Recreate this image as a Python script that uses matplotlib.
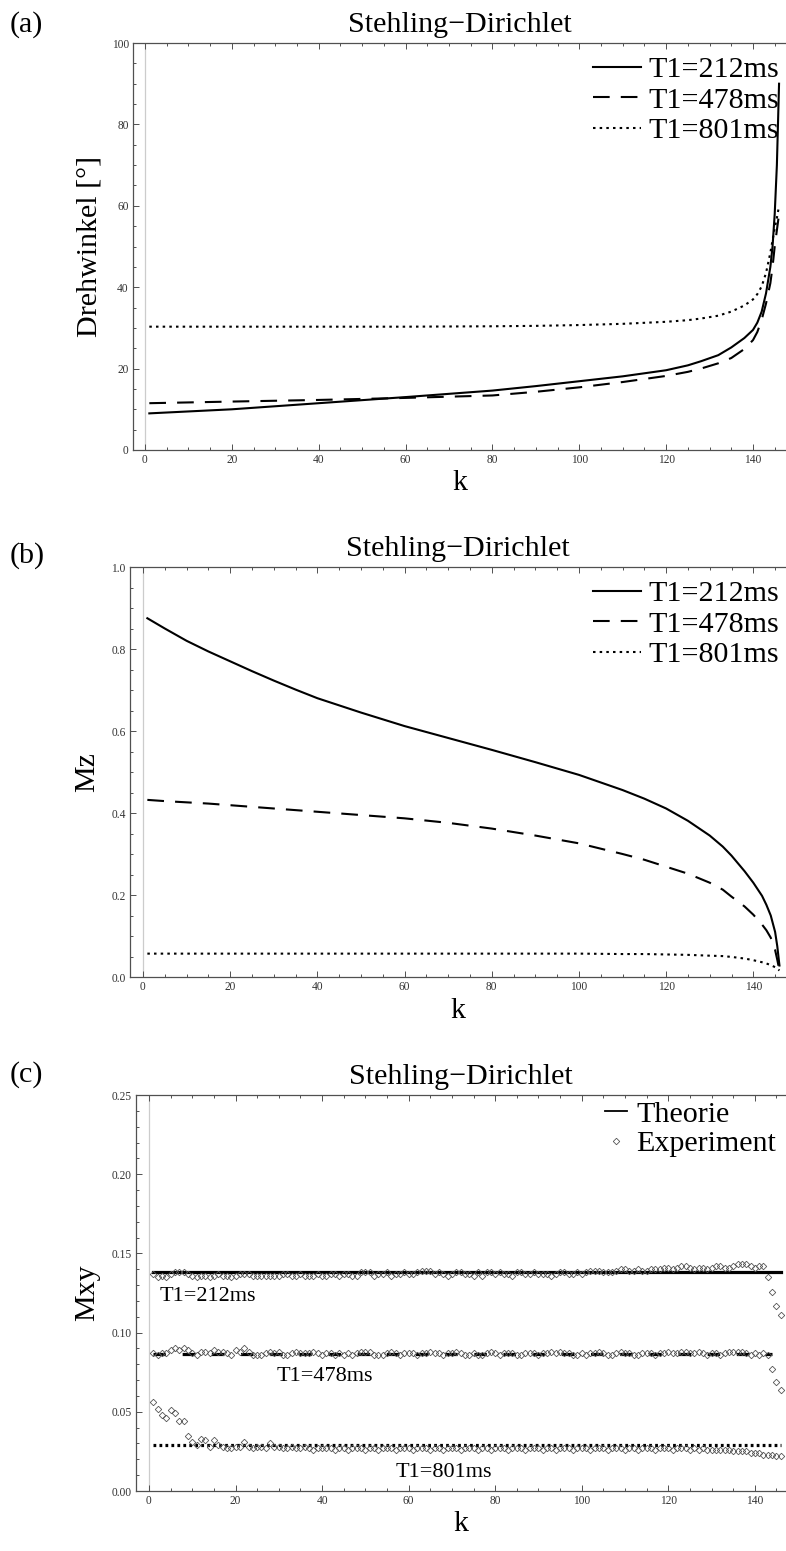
import matplotlib
matplotlib.use("Agg")
import matplotlib.pyplot as plt
from matplotlib.ticker import MultipleLocator, FormatStrFormatter

plt.rcParams["font.family"] = ["Liberation Serif", "DejaVu Serif"]
plt.rcParams["lines.scale_dashes"] = False

TITLE = "Stehling\u2212Dirichlet"
T1_LABELS = ["T1=212ms", "T1=478ms", "T1=801ms"]

# (a) flip angle vs k
k_a = [1, 20, 40, 60, 80, 90, 100, 110, 120, 125, 128, 132, 135, 138, 140, 141, 142, 143, 144, 144.5, 145, 145.5, 146]
angle_212 = [9.0, 10.0, 11.5, 13.0, 14.6, 15.7, 16.9, 18.1, 19.6, 20.8, 21.8, 23.3, 25.2, 27.5, 29.5, 31.3, 34.0, 38.5, 45.0, 50.0, 58.0, 70.0, 90.0]
angle_478 = [11.5, 11.9, 12.3, 12.8, 13.4, 14.3, 15.4, 16.7, 18.2, 19.2, 20.0, 21.3, 22.6, 24.8, 27.0, 29.0, 32.0, 36.0, 41.0, 45.0, 50.0, 54.0, 58.0]
angle_801 = [30.3, 30.3, 30.3, 30.3, 30.4, 30.5, 30.7, 31.0, 31.5, 31.9, 32.3, 33.0, 34.0, 35.5, 37.0, 38.3, 40.2, 43.5, 48.5, 51.5, 54.5, 57.0, 60.0]

# (b) Mz vs k
k_b = [1, 5, 10, 15, 20, 25, 30, 35, 40, 50, 60, 70, 80, 90, 100, 110, 115, 120, 125, 130, 133, 135, 138, 140,
       142, 143, 144, 145, 145.5, 146]
mz_212 = [0.875, 0.850, 0.820, 0.794, 0.770, 0.746, 0.723, 0.701, 0.680, 0.645, 0.612, 0.583, 0.554, 0.524,
          0.493, 0.456, 0.435, 0.411, 0.381, 0.345, 0.318, 0.296, 0.258, 0.230, 0.198, 0.176, 0.150, 0.110,
          0.075, 0.028]
mz_478 = [0.432, 0.429, 0.426, 0.423, 0.419, 0.415, 0.411, 0.407, 0.403, 0.395, 0.387, 0.376, 0.362, 0.345,
          0.326, 0.300, 0.286, 0.269, 0.252, 0.230, 0.213, 0.196, 0.172, 0.152, 0.128, 0.114, 0.096, 0.066,
          0.042, 0.016]
mz_801 = [0.057, 0.057, 0.057, 0.057, 0.057, 0.057, 0.057, 0.057, 0.057, 0.057, 0.057, 0.057, 0.057, 0.057,
          0.057, 0.056, 0.056, 0.055, 0.054, 0.052, 0.051, 0.049, 0.045, 0.041, 0.036, 0.033, 0.029, 0.024,
          0.020, 0.016]

# (c) Mxy: theory levels and measured points, k = 1..146
k_theory = [1, 146]
k_theory_478 = [1, 144]
mxy_theory = [0.1385, 0.0864, 0.0292]

exp_212 = [
    0.137, 0.135, 0.136, 0.135, 0.137, 0.138, 0.138, 0.138, 0.137, 0.136,
    0.135, 0.136, 0.136, 0.135, 0.136, 0.137, 0.136, 0.136, 0.135, 0.136,
    0.137, 0.137, 0.137, 0.136, 0.136, 0.136, 0.136, 0.136, 0.136, 0.136,
    0.137, 0.137, 0.136, 0.136, 0.137, 0.136, 0.136, 0.136, 0.137, 0.136,
    0.136, 0.137, 0.137, 0.136, 0.137, 0.137, 0.136, 0.136, 0.138, 0.138,
    0.138, 0.136, 0.137, 0.137, 0.138, 0.136, 0.137, 0.137, 0.138, 0.137,
    0.137, 0.138, 0.139, 0.139, 0.139, 0.137, 0.138, 0.137, 0.136, 0.137,
    0.138, 0.138, 0.137, 0.137, 0.136, 0.138, 0.136, 0.138, 0.138, 0.137,
    0.138, 0.137, 0.137, 0.136, 0.138, 0.138, 0.137, 0.137, 0.138, 0.137,
    0.137, 0.137, 0.136, 0.137, 0.138, 0.138, 0.137, 0.137, 0.138, 0.137,
    0.138, 0.139, 0.139, 0.139, 0.138, 0.138, 0.138, 0.139, 0.140, 0.140,
    0.139, 0.139, 0.140, 0.139, 0.139, 0.140, 0.140, 0.140, 0.141, 0.141,
    0.140, 0.141, 0.142, 0.142, 0.141, 0.140, 0.141, 0.141, 0.140, 0.141,
    0.142, 0.142, 0.141, 0.141, 0.142, 0.143, 0.143, 0.143, 0.142, 0.141,
    0.142, 0.142, 0.135, 0.1255, 0.117, 0.111,
]
exp_478 = [
    0.087, 0.086, 0.087, 0.087, 0.089, 0.090, 0.089, 0.090, 0.089, 0.087,
    0.086, 0.088, 0.088, 0.087, 0.089, 0.088, 0.088, 0.087, 0.086, 0.089,
    0.088, 0.090, 0.088, 0.086, 0.086, 0.086, 0.087, 0.088, 0.087, 0.088,
    0.086, 0.086, 0.087, 0.088, 0.087, 0.087, 0.087, 0.088, 0.087, 0.086,
    0.087, 0.087, 0.086, 0.087, 0.086, 0.087, 0.086, 0.087, 0.088, 0.088,
    0.088, 0.086, 0.086, 0.086, 0.087, 0.088, 0.087, 0.086, 0.087, 0.087,
    0.087, 0.086, 0.087, 0.087, 0.088, 0.087, 0.087, 0.086, 0.087, 0.087,
    0.088, 0.087, 0.086, 0.086, 0.087, 0.086, 0.086, 0.087, 0.088, 0.087,
    0.086, 0.087, 0.087, 0.087, 0.086, 0.086, 0.087, 0.087, 0.087, 0.086,
    0.087, 0.087, 0.088, 0.087, 0.088, 0.087, 0.087, 0.086, 0.086, 0.087,
    0.086, 0.087, 0.087, 0.088, 0.087, 0.086, 0.086, 0.087, 0.088, 0.087,
    0.087, 0.086, 0.086, 0.087, 0.087, 0.087, 0.086, 0.087, 0.087, 0.088,
    0.087, 0.087, 0.088, 0.088, 0.087, 0.087, 0.088, 0.087, 0.086, 0.087,
    0.087, 0.086, 0.087, 0.088, 0.088, 0.088, 0.088, 0.087, 0.086, 0.087,
    0.086, 0.087, 0.086, 0.077, 0.069, 0.064,
]
exp_801 = [
    0.056, 0.052, 0.048, 0.046, 0.051, 0.049, 0.044, 0.044, 0.035, 0.031,
    0.029, 0.033, 0.032, 0.028, 0.032, 0.029, 0.028, 0.027, 0.027, 0.028,
    0.028, 0.031, 0.028, 0.027, 0.028, 0.028, 0.027, 0.030, 0.028, 0.028,
    0.027, 0.027, 0.028, 0.027, 0.027, 0.028, 0.027, 0.026, 0.027, 0.027,
    0.027, 0.027, 0.026, 0.027, 0.027, 0.026, 0.027, 0.027, 0.027, 0.026,
    0.027, 0.027, 0.026, 0.027, 0.027, 0.027, 0.026, 0.027, 0.027, 0.027,
    0.026, 0.027, 0.027, 0.027, 0.026, 0.027, 0.027, 0.026, 0.027, 0.027,
    0.027, 0.026, 0.027, 0.027, 0.027, 0.026, 0.027, 0.027, 0.026, 0.027,
    0.027, 0.027, 0.026, 0.027, 0.027, 0.027, 0.026, 0.027, 0.027, 0.027,
    0.026, 0.027, 0.027, 0.026, 0.027, 0.027, 0.027, 0.026, 0.027, 0.027,
    0.027, 0.026, 0.027, 0.027, 0.027, 0.026, 0.027, 0.027, 0.027, 0.026,
    0.027, 0.027, 0.026, 0.027, 0.027, 0.027, 0.026, 0.027, 0.027, 0.027,
    0.026, 0.027, 0.027, 0.027, 0.026, 0.027, 0.026, 0.027, 0.026, 0.026,
    0.026, 0.026, 0.026, 0.026, 0.025, 0.025, 0.025, 0.025, 0.024, 0.024,
    0.024, 0.023, 0.023, 0.023, 0.022, 0.022,
]
k_exp = list(range(1, len(exp_212) + 1))

W, H = 786, 1551
AXIS_COLOR = "#505050"
BIG = 21.6
DASH = (0, (12, 8))
DOT = (0, (1.8, 3.0))


def px_box(left, top, right, bottom):
    return [left / W, 1 - bottom / H, (right - left) / W, (bottom - top) / H]


def style_axes(ax, xlim, ylim, ymajor, yminor, yfmt):
    ax.set_xlim(*xlim)
    ax.set_ylim(*ylim)
    ax.axvline(0, color="#cccccc", lw=0.9, zorder=0)
    ax.xaxis.set_major_locator(MultipleLocator(20))
    ax.xaxis.set_minor_locator(MultipleLocator(5))
    ax.yaxis.set_major_locator(MultipleLocator(ymajor))
    ax.yaxis.set_minor_locator(MultipleLocator(yminor))
    ax.yaxis.set_major_formatter(FormatStrFormatter(yfmt))
    ax.tick_params(which="both", direction="in", top=True, right=False,
                   color=AXIS_COLOR, labelcolor="#333333", labelsize=8.3, width=0.7)
    ax.tick_params(which="major", length=4, pad=3)
    ax.tick_params(which="minor", length=2.2)
    for side in ["left", "bottom", "top"]:
        ax.spines[side].set_color(AXIS_COLOR)
        ax.spines[side].set_linewidth(0.9)
    ax.spines["right"].set_visible(False)
    ax.set_title(TITLE, fontsize=BIG, pad=8)
    ax.set_xlabel("k", fontsize=BIG)


def t1_legend(ax):
    ax.legend(loc="upper right", bbox_to_anchor=(0.99, 0.968), frameon=False, fontsize=BIG,
              handlelength=1.6, handletextpad=0.25, labelspacing=0.12, borderpad=0, borderaxespad=0)


fig = plt.figure(figsize=(W / 100, H / 100), dpi=100)

# panel (a)
ax = fig.add_axes(px_box(133, 43, 786, 450))
style_axes(ax, (-2.76, 147.6), (0, 100), 20, 5, "%d")
ax.plot(k_a, angle_212, color="black", lw=1.5, label=T1_LABELS[0])
ax.plot(k_a, angle_478, color="black", lw=1.5, ls=DASH, label=T1_LABELS[1])
ax.plot(k_a, angle_801, color="black", lw=1.5, ls=DOT, label=T1_LABELS[2])
ax.set_ylabel("Drehwinkel [\u00b0]", fontsize=BIG)
ax.yaxis.set_label_coords(-0.047, 0.5)
ax.xaxis.set_label_coords(0.5, -0.05)
t1_legend(ax)
fig.text(10 / W, 1 - 25 / H, "(a)", fontsize=BIG, va="center")

# panel (b)
ax = fig.add_axes(px_box(130, 567, 786, 977))
style_axes(ax, (-2.98, 147.5), (0, 1.0), 0.2, 0.05, "%.1f")
ax.plot(k_b, mz_212, color="black", lw=1.5, label=T1_LABELS[0])
ax.plot(k_b, mz_478, color="black", lw=1.5, ls=DASH, label=T1_LABELS[1])
ax.plot(k_b, mz_801, color="black", lw=1.5, ls=DOT, label=T1_LABELS[2])
ax.set_ylabel("Mz", fontsize=BIG)
ax.yaxis.set_label_coords(-0.046, 0.5)
ax.xaxis.set_label_coords(0.5, -0.05)
t1_legend(ax)
fig.text(10 / W, 1 - 556 / H, "(b)", fontsize=BIG, va="center")

# panel (c)
ax = fig.add_axes(px_box(136, 1095, 786, 1491))
style_axes(ax, (-3.0, 147.2), (0, 0.25), 0.05, 0.01, "%.2f")
ax.plot(k_theory, [mxy_theory[0]] * 2, color="black", lw=2.3)
ax.plot(k_theory_478, [mxy_theory[1]] * 2, color="black", lw=2.3, ls=(0, (9, 12)))
ax.plot(k_theory, [mxy_theory[2]] * 2, color="black", lw=2.3, ls=(0, (2, 2.3)))
for series in [exp_212, exp_478, exp_801]:
    ax.plot(k_exp, series, ls="none", marker="D", ms=3.3, mfc="none", mec="#555555", mew=0.6)
ax.text(2.5, 0.1225, T1_LABELS[0], fontsize=16, va="center")
ax.text(29.5, 0.0725, T1_LABELS[1], fontsize=16, va="center")
ax.text(57, 0.0115, T1_LABELS[2], fontsize=16, va="center")
ax.set_ylabel("Mxy", fontsize=BIG)
ax.yaxis.set_label_coords(-0.055, 0.5)
ax.xaxis.set_label_coords(0.5, -0.05)
theory_handle = plt.Line2D([], [], color="black", lw=1.3)
exp_handle = plt.Line2D([], [], ls="none", marker="D", ms=3.3, mfc="none", mec="#555555", mew=0.6)
ax.legend([theory_handle, exp_handle], ["Theorie", "Experiment"], loc="upper right",
          bbox_to_anchor=(0.985, 0.985), frameon=False, fontsize=BIG,
          handlelength=0.75, handletextpad=0.3, labelspacing=0.08, borderpad=0, borderaxespad=0)
fig.text(10 / W, 1 - 1075 / H, "(c)", fontsize=BIG, va="center")

fig.savefig("out.png", dpi=100)
